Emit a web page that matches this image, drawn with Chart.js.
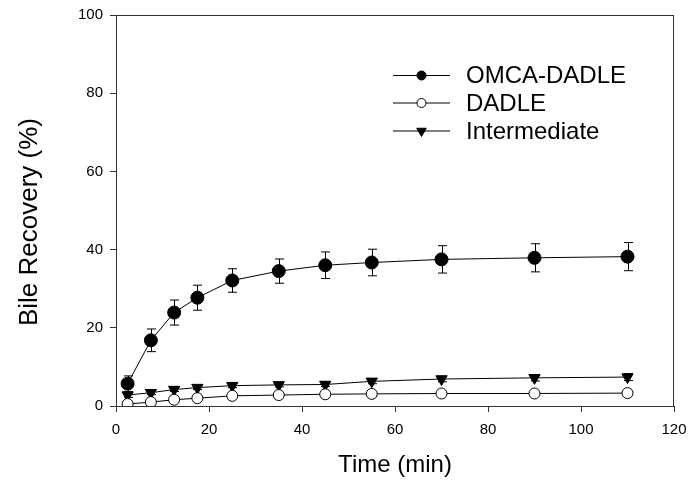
<!DOCTYPE html>
<html><head><meta charset="utf-8">
<script src="https://cdn.jsdelivr.net/npm/chart.js@4/dist/chart.umd.min.js"></script>
<style>html,body{margin:0;padding:0;background:#fff}#wrap{width:688px;height:480px}</style>
</head><body><div id="wrap"><canvas id="c" width="688" height="480"></canvas></div>
<script>
const timeMin = [2.5, 7.5, 12.5, 17.5, 25, 35, 45, 55, 70, 90, 110];
const omcaDadle = [5.7, 16.8, 23.9, 27.7, 32.1, 34.5, 36.0, 36.7, 37.5, 37.9, 38.2];
const omcaDadleErr = [2.0, 2.9, 3.2, 3.2, 3.0, 3.1, 3.4, 3.4, 3.5, 3.6, 3.6];
const dadle = [0.5, 1.0, 1.6, 2.0, 2.6, 2.8, 3.0, 3.1, 3.2, 3.2, 3.3];
const dadleErr = [0.3, 0.3, 0.3, 0.3, 0.3, 0.3, 0.3, 0.3, 0.3, 0.3, 0.3];
const intermediate = [2.8, 3.4, 4.2, 4.7, 5.2, 5.4, 5.5, 6.3, 6.9, 7.2, 7.4];
const intermediateErr = [0.6, 0.5, 0.5, 0.5, 0.5, 0.5, 0.5, 0.6, 0.7, 0.8, 0.9];
const seriesNames = ['OMCA-DADLE', 'DADLE', 'Intermediate'];
const xTitle = 'Time (min)';
const yTitle = 'Bile Recovery (%)';

const FONT = '"Liberation Sans", Arial, sans-serif';
const AXIS = '#333';

function pts(ys) { return timeMin.map((x, i) => ({x: x, y: ys[i]})); }

const errorBars = {
  id: 'errorBars',
  beforeDatasetsDraw(chart) {
    const ctx = chart.ctx, xs = chart.scales.x, ys = chart.scales.y;
    ctx.save();
    ctx.strokeStyle = '#000';
    ctx.lineWidth = 1;
    chart.data.datasets.forEach(ds => {
      if (!ds.errors) return;
      ds.data.forEach((p, i) => {
        const e = ds.errors[i];
        const px = Math.round(xs.getPixelForValue(p.x)) + 0.5;
        const yt = ys.getPixelForValue(p.y + e), yb = ys.getPixelForValue(p.y - e);
        ctx.beginPath();
        ctx.moveTo(px, yt); ctx.lineTo(px, yb);
        ctx.moveTo(px - 4.5, yt); ctx.lineTo(px + 4.5, yt);
        ctx.moveTo(px - 4.5, yb); ctx.lineTo(px + 4.5, yb);
        ctx.stroke();
      });
    });
    ctx.restore();
  }
};

const frameAndText = {
  id: 'frameAndText',
  afterDraw(chart) {
    const ctx = chart.ctx, a = chart.chartArea;
    ctx.save();
    ctx.strokeStyle = AXIS; ctx.lineWidth = 1;
    ctx.beginPath();
    ctx.moveTo(a.left, Math.round(a.top) + 0.5); ctx.lineTo(a.right, Math.round(a.top) + 0.5);
    ctx.moveTo(Math.round(a.right) - 0.5, a.top); ctx.lineTo(Math.round(a.right) - 0.5, a.bottom);
    ctx.stroke();
    // y title
    ctx.fillStyle = '#000';
    ctx.font = '26px ' + FONT;
    ctx.textAlign = 'center'; ctx.textBaseline = 'middle';
    ctx.translate(30, 222);
    ctx.rotate(-Math.PI / 2);
    ctx.fillText(yTitle, 0, 0);
    ctx.restore();
    // legend
    ctx.save();
    const rows = [75.5, 103, 131];
    chart.data.datasets.forEach((ds, i) => {
      const y = rows[i];
      ctx.strokeStyle = '#000'; ctx.lineWidth = 1;
      ctx.beginPath(); ctx.moveTo(393, y); ctx.lineTo(450, y); ctx.stroke();
      ctx.fillStyle = ds.pointBackgroundColor; ctx.strokeStyle = '#000';
      Chart.helpers.drawPoint(ctx, {
        pointStyle: ds.pointStyle, rotation: ds.pointRotation || 0,
        radius: ds.legendRadius, borderWidth: 1
      }, 421.5, y);
      ctx.fillStyle = '#000';
      ctx.font = '24px ' + FONT;
      ctx.textAlign = 'left'; ctx.textBaseline = 'middle';
      ctx.fillText(ds.label, 466, y + 1);
    });
    ctx.restore();
  }
};

new Chart(document.getElementById('c'), {
  type: 'line',
  data: {
    datasets: [
      { label: seriesNames[0], data: pts(omcaDadle), errors: omcaDadleErr,
        borderColor: '#000', borderWidth: 1, pointStyle: 'circle', pointRadius: 6.5,
        pointBackgroundColor: '#000', pointBorderColor: '#000', pointBorderWidth: 1, legendRadius: 4.5 },
      { label: seriesNames[1], data: pts(dadle), errors: dadleErr,
        borderColor: '#000', borderWidth: 1, pointStyle: 'circle', pointRadius: 5.5,
        pointBackgroundColor: '#fff', pointBorderColor: '#000', pointBorderWidth: 1, legendRadius: 4.5 },
      { label: seriesNames[2], data: pts(intermediate), errors: intermediateErr,
        borderColor: '#000', borderWidth: 1, pointStyle: 'triangle', pointRotation: 180, pointRadius: 6.5,
        pointBackgroundColor: '#000', pointBorderColor: '#000', pointBorderWidth: 1, legendRadius: 5.5 }
    ]
  },
  options: {
    responsive: false, animation: false, devicePixelRatio: 1,
    layout: { padding: { left: 0, right: 14, top: 15, bottom: 0 } },
    plugins: { legend: { display: false }, tooltip: { enabled: false } },
    elements: { line: { tension: 0 } },
    scales: {
      x: {
        type: 'linear', min: 0, max: 120,
        ticks: { stepSize: 20, color: '#000', font: { family: FONT, size: 15 }, padding: 9, maxRotation: 0 },
        grid: { display: true, drawOnChartArea: false, drawTicks: true, tickLength: 6, color: AXIS },
        border: { display: true, color: AXIS, width: 1 },
        title: { display: true, text: xTitle, color: '#000', font: { family: FONT, size: 24 }, padding: { top: 0, bottom: 0 } },
        afterFit(s) { s.height = 74; s.paddingLeft = 0; s.paddingRight = 0; }
      },
      y: {
        type: 'linear', min: 0, max: 100,
        ticks: { stepSize: 20, color: '#000', font: { family: FONT, size: 15 }, padding: 7 },
        grid: { display: true, drawOnChartArea: false, drawTicks: true, tickLength: 6, color: AXIS },
        border: { display: true, color: AXIS, width: 1 },
        afterFit(s) { s.width = 116; s.paddingTop = 0; s.paddingBottom = 0; }
      }
    }
  },
  plugins: [errorBars, frameAndText]
});
</script>
</body></html>
